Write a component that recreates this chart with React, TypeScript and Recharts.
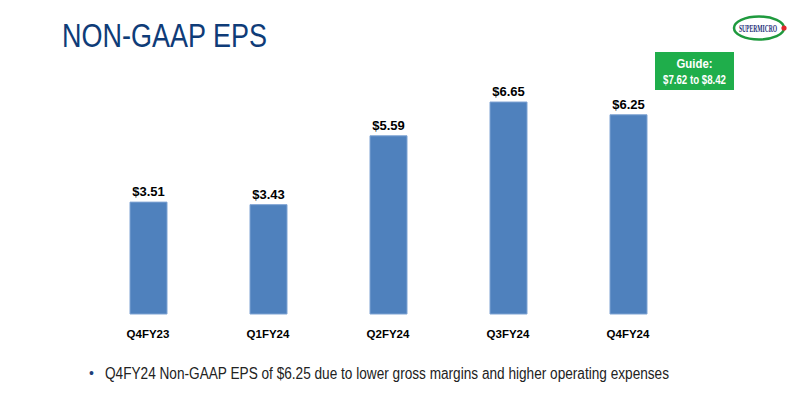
import React from 'react';
import { BarChart, Bar, XAxis, YAxis, LabelList } from 'recharts';

const quarters = ['Q4FY23', 'Q1FY24', 'Q2FY24', 'Q3FY24', 'Q4FY24'];
const epsValues = [3.51, 3.43, 5.59, 6.65, 6.25];
const data = quarters.map((q, i) => ({ q, eps: epsValues[i] }));

const FONT = '"Liberation Sans", Arial, sans-serif';

const QuarterTick = (props: any) => {
  const { x, y, payload } = props;
  return (
    <text x={x} y={y + 16} textAnchor="middle" fill="#000" fontSize={11.5} fontWeight={700} fontFamily={FONT}>
      {payload.value}
    </text>
  );
};

export default function App() {
  return (
    <div style={{ position: 'absolute', left: 0, top: 0, width: 800, height: 393, background: '#fff', fontFamily: FONT }}>
      <BarChart width={800} height={393} data={data} margin={{ top: 59, right: 112, bottom: 49, left: 88 }}>
        <YAxis hide domain={[0, 8]} />
        <XAxis dataKey="q" axisLine={false} tickLine={false} height={30} interval={0} tick={<QuarterTick />} />
        <Bar dataKey="eps" fill="#4f81bd" stroke="#7ea3d3" strokeWidth={1} barSize={37} isAnimationActive={false}>
          <LabelList
            dataKey="eps"
            position="top"
            offset={6}
            formatter={(v: number) => `$${v.toFixed(2)}`}
            style={{ fill: '#000', fontSize: 13, fontWeight: 700, fontFamily: FONT }}
          />
        </Bar>
      </BarChart>
      <svg width={800} height={393} style={{ position: 'absolute', left: 0, top: 0, pointerEvents: 'none' }}>
        <text x={62} y={47} fontSize={33.5} fill="#0f3c78" fontFamily={FONT} textLength={205} lengthAdjust="spacingAndGlyphs">
          NON-GAAP EPS
        </text>
        <rect x={655} y={52} width={79} height={38} fill="#1fae4b" />
        <text x={694.5} y={68} textAnchor="middle" fontSize={12} fontWeight={700} fill="#fff" fontFamily={FONT} textLength={36} lengthAdjust="spacingAndGlyphs">
          Guide:
        </text>
        <text x={694.5} y={84} textAnchor="middle" fontSize={12} fontWeight={700} fill="#fff" fontFamily={FONT} textLength={63} lengthAdjust="spacingAndGlyphs">
          $7.62 to $8.42
        </text>
        <ellipse cx={759} cy={28} rx={25} ry={11.5} fill="none" stroke="#1f9a3e" strokeWidth={2.5} />
        <g transform="translate(758,31.5) scale(0.56,1)">
          <text x={0} y={0} textAnchor="middle" fontSize={10} fontWeight={700} fill="#1d2f7a" fontFamily='"Liberation Serif", serif'>
            SUPERMICRO
          </text>
        </g>
        <circle cx={784} cy={28} r={2.6} fill="#e0262b" />
        <text x={89} y={378} fontSize={14} fill="#1f3f7a" fontFamily={FONT}>•</text>
        <text x={105} y={379} fontSize={16} fill="#222" fontFamily={FONT} textLength={564} lengthAdjust="spacingAndGlyphs">
          Q4FY24 Non-GAAP EPS of $6.25 due to lower gross margins and higher operating expenses
        </text>
      </svg>
    </div>
  );
}
